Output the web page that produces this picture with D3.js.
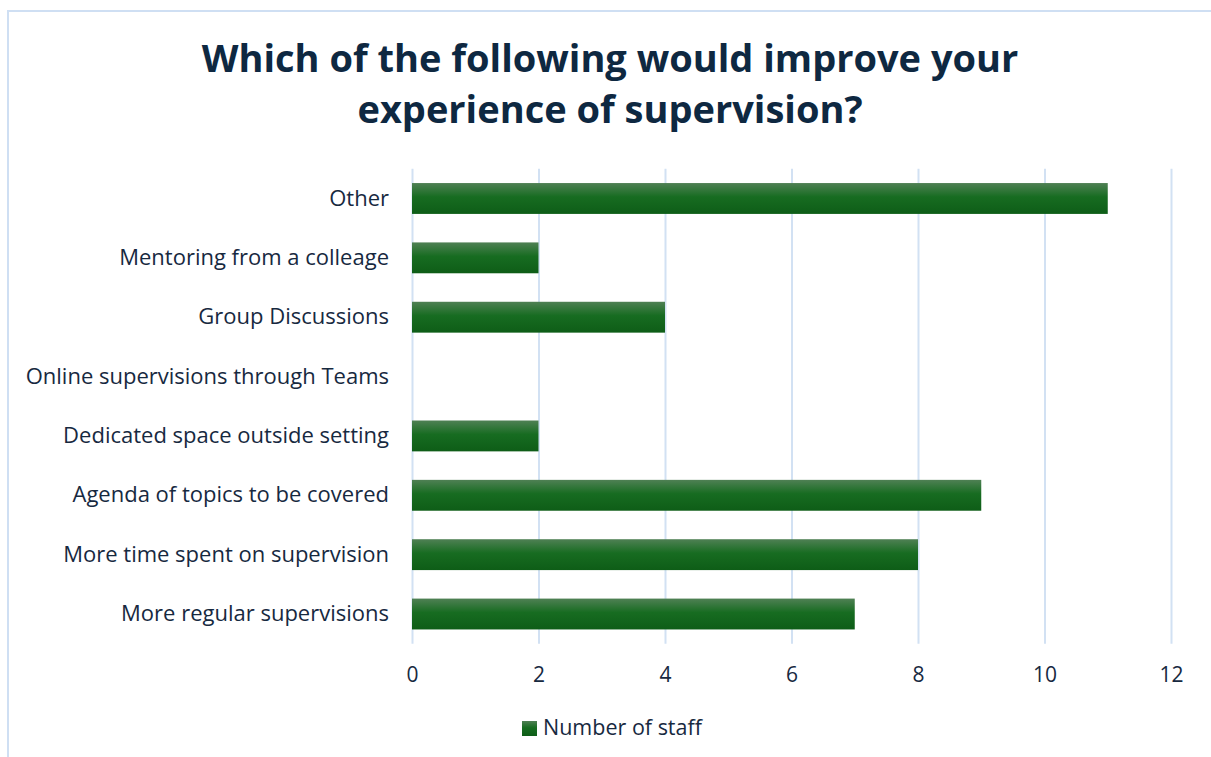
<!DOCTYPE html>
<html>
<head>
<meta charset="utf-8">
<script src="https://cdn.jsdelivr.net/npm/d3@7"></script>
<style>
  html, body { margin: 0; padding: 0; background: #ffffff; }
  svg { display: block; }
  text { font-family: "Open Sans", "Liberation Sans", sans-serif; }
</style>
</head>
<body>
<svg id="chart" width="1211" height="757"></svg>
<script>
// Survey responses: which changes would improve supervision
const categories = [
  "Other",
  "Mentoring from a colleage",
  "Group Discussions",
  "Online supervisions through Teams",
  "Dedicated space outside setting",
  "Agenda of topics to be covered",
  "More time spent on supervision",
  "More regular supervisions"
];
const staffCounts = [11, 2, 4, 0, 2, 9, 8, 7];
const xTicks = [0, 2, 4, 6, 8, 10, 12];
const titleLines = ["Which of the following would improve your", "experience of supervision?"];
const seriesName = "Number of staff";

const svg = d3.select("#chart");
const W = 1211, H = 757;

// outer frame
svg.append("rect")
  .attr("x", 8).attr("y", 11)
  .attr("width", W + 10).attr("height", H + 10)
  .attr("fill", "#ffffff")
  .attr("stroke", "#cfdff3").attr("stroke-width", 2);

// bar gradient
const defs = svg.append("defs");
const grad = defs.append("linearGradient")
  .attr("id", "barFill").attr("x1", 0).attr("y1", 0).attr("x2", 0).attr("y2", 1);
grad.append("stop").attr("offset", "0%").attr("stop-color", "#4f8054");
grad.append("stop").attr("offset", "45%").attr("stop-color", "#176c21");
grad.append("stop").attr("offset", "100%").attr("stop-color", "#0e5d17");

const x = d3.scaleLinear().domain([0, 12]).range([412, 1171]);
const y = d3.scaleBand().domain(categories).range([168.8, 643.7])
  .paddingInner(0.48).paddingOuter(0.24);

// title
svg.append("text")
  .attr("x", 610).attr("y", 72)
  .attr("text-anchor", "middle")
  .attr("font-size", 38).attr("font-weight", 700)
  .attr("fill", "#0e2841")
  .selectAll("tspan").data(titleLines).join("tspan")
  .attr("x", 610).attr("dy", (d, i) => i === 0 ? 0 : 51)
  .text(d => d);

// vertical gridlines and value ticks
const xAxis = d3.axisBottom(x).tickValues(xTicks)
  .tickSize(-(643.7 - 168.8)).tickPadding(23).tickFormat(d3.format("d"));
const gx = svg.append("g").attr("transform", "translate(0,643.7)").call(xAxis);
gx.select(".domain").remove();
gx.selectAll(".tick line").attr("stroke", "#d2e1f3").attr("stroke-width", 2);
gx.selectAll(".tick text")
  .attr("font-size", 21).attr("fill", "#17293f")
  .attr("font-family", "'Open Sans', sans-serif");

// category labels
const yAxis = d3.axisLeft(y).tickSize(0).tickPadding(0);
const gy = svg.append("g").attr("transform", "translate(389,0)").call(yAxis);
gy.select(".domain").remove();
gy.selectAll(".tick text")
  .attr("font-size", 22).attr("fill", "#17293f")
  .attr("font-family", "'Open Sans', sans-serif");

// bars
svg.append("g").selectAll("rect")
  .data(categories.map((c, i) => ({ c, v: staffCounts[i] })))
  .join("rect")
  .attr("x", x(0))
  .attr("y", d => y(d.c))
  .attr("width", d => x(d.v) - x(0))
  .attr("height", y.bandwidth())
  .attr("fill", "url(#barFill)");

// legend
const lg = svg.append("g");
lg.append("rect").attr("x", 522).attr("y", 721).attr("width", 15).attr("height", 15)
  .attr("fill", "url(#barFill)");
lg.append("text").attr("x", 543).attr("y", 735)
  .attr("font-size", 21.5).attr("fill", "#17293f")
  .text(seriesName);
</script>
</body>
</html>
